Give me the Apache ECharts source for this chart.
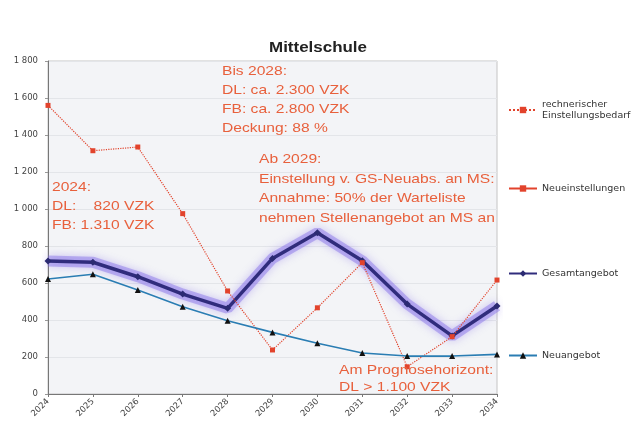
<!DOCTYPE html>
<html><head><meta charset="utf-8">
<script src="https://cdn.jsdelivr.net/npm/echarts@6/dist/echarts.min.js"></script>
<style>html,body{margin:0;padding:0;background:#fff}#c{width:636px;height:426px}</style>
</head><body><div id="c"></div>
<script>
const years = ['2024','2025','2026','2027','2028','2029','2030','2031','2032','2033','2034'];
const bedarf = [1560, 1315, 1335, 975, 557, 238, 466, 710, 147, 310, 616];
const neueinstellungen = [];
const gesamtangebot = [719, 712, 634, 540, 463, 733, 872, 720, 486, 314, 476];
const neuangebot = [622, 647, 562, 472, 396, 333, 274, 222, 205, 205, 214];
const yTicks = [0, 200, 400, 600, 800, 1000, 1200, 1400, 1600, 1800];

const F = 'Liberation Sans, Arial, sans-serif';
const D = 'DejaVu Sans, sans-serif';
const red = '#e2432c';
const txtRed = '#e8603c';
const chart = echarts.init(document.getElementById('c'));
function legendAt(name, top) {
  return { data: [name], left: 503, top: top, orient: 'vertical', itemWidth: 28, itemHeight: 8, itemGap: 0,
    textStyle: { fontFamily: D, fontSize: 9.5, color: '#333', lineHeight: 11 } };
}
function note(x, y, text, lh) {
  return { type: 'text', x: x, y: y, scaleX: 1.2, z: 100,
    style: { text: text, font: '13px ' + F, fill: txtRed, lineHeight: lh } };
}
chart.setOption({
  animation: false,
  backgroundColor: '#fff',
  legend: [
    legendAt('rechnerischer\nEinstellungsbedarf', 94),
    legendAt('Neueinstellungen', 178),
    legendAt('Gesamtangebot', 263),
    legendAt('Neuangebot', 345)
  ],
  grid: { left: 48, top: 61, width: 449, height: 333, show: true, backgroundColor: '#f3f4f7',
    borderColor: '#c4c4c4', borderWidth: 1 },
  xAxis: { type: 'category', data: years, boundaryGap: false,
    axisLine: { lineStyle: { color: '#777' } },
    axisTick: { show: true, length: 3, lineStyle: { color: '#777' } },
    axisLabel: { rotate: 45, fontFamily: D, fontSize: 8.5, color: '#444', margin: 6 },
    splitLine: { show: false } },
  yAxis: { type: 'value', min: 0, max: 1800, interval: 200,
    axisLine: { show: true, lineStyle: { color: '#777' } },
    axisTick: { show: true, length: 3, lineStyle: { color: '#999' } },
    axisLabel: { fontFamily: D, fontSize: 8.5, color: '#444', margin: 10,
      formatter: v => yTicks.includes(v) ? String(v).replace(/\B(?=(\d{3})+(?!\d))/g, ' ') : '' },
    splitLine: { lineStyle: { color: '#e3e5e9' } } },
  series: [
    { name: 'rechnerischer\nEinstellungsbedarf', type: 'line', data: bedarf, symbol: 'rect', symbolSize: 5,
      itemStyle: { color: red }, lineStyle: { color: red, width: 1.2, type: 'dotted' }, z: 3 },
    { name: 'Neueinstellungen', type: 'line', data: neueinstellungen, symbol: 'rect', symbolSize: 5,
      itemStyle: { color: red }, lineStyle: { color: red, width: 2 } },
    { name: 'glow', type: 'line', data: gesamtangebot, symbol: 'none', silent: true, z: 1,
      lineStyle: { color: 'rgba(125,100,230,0.42)', width: 11, shadowColor: 'rgba(125,100,230,0.8)', shadowBlur: 8 } },
    { name: 'Gesamtangebot', type: 'line', data: gesamtangebot, symbol: 'diamond', symbolSize: 7,
      itemStyle: { color: '#2b2a72' },
      lineStyle: { color: '#302c7c', width: 3.5 }, z: 2 },
    { name: 'Neuangebot', type: 'line', data: neuangebot, symbol: 'triangle', symbolSize: 6,
      itemStyle: { color: '#111' }, lineStyle: { color: '#2a7db3', width: 1.6 }, z: 4 }
  ],
  graphic: [
    { type: 'text', x: 318, y: 40, scaleX: 1.13, z: 100,
      style: { text: 'Mittelschule', font: 'bold 15px ' + F, fill: '#222', align: 'center', verticalAlign: 'top' } },
    note(52, 178, '2024:\nDL:    820 VZK\nFB: 1.310 VZK', 19),
    note(222, 62, 'Bis 2028:\nDL: ca. 2.300 VZK\nFB: ca. 2.800 VZK\nDeckung: 88 %', 19),
    note(259, 150, 'Ab 2029:\nEinstellung v. GS-Neuabs. an MS:\nAnnahme: 50% der Warteliste\nnehmen Stellenangebot an MS an', 19.5),
    note(339, 362, 'Am Prognosehorizont:\nDL > 1.100 VZK', 17)
  ]
});
</script></body></html>
